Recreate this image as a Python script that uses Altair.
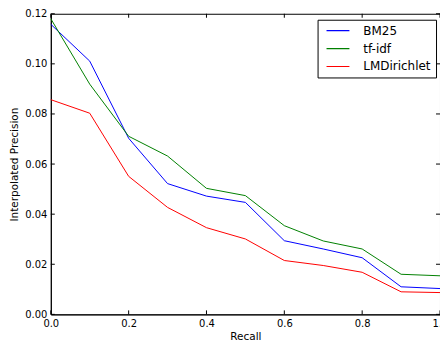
import altair as alt
import pandas as pd

recall = [0.0, 0.1, 0.2, 0.3, 0.4, 0.5, 0.6, 0.7, 0.8, 0.9, 1.0]
bm25 = [0.1158, 0.1011, 0.0703, 0.0522, 0.0472, 0.0447, 0.0294, 0.0261, 0.0226, 0.0110, 0.0103]
tfidf = [0.1180, 0.0919, 0.0711, 0.0632, 0.0503, 0.0474, 0.0354, 0.0293, 0.0261, 0.0160, 0.0154]
lmdir = [0.0857, 0.0803, 0.0551, 0.0427, 0.0346, 0.0301, 0.0215, 0.0195, 0.0168, 0.0090, 0.0087]
systems = ["BM25", "tf-idf", "LMDirichlet"]
colors = ["#0000ff", "#008000", "#ff0000"]
x_ticks = [0.0, 0.2, 0.4, 0.6, 0.8, 1.0]
y_ticks = [0.0, 0.02, 0.04, 0.06, 0.08, 0.10, 0.12]

rows = []
for name, vals in zip(systems, [bm25, tfidf, lmdir]):
    for r, p in zip(recall, vals):
        rows.append({"recall": r, "precision": p, "system": name})
df = pd.DataFrame(rows)
xt = pd.DataFrame({"recall": x_ticks})
yt = pd.DataFrame({"precision": y_ticks})

W, H = 391, 302
xs = alt.Scale(domain=[0, 1], nice=False, zero=False)
ys = alt.Scale(domain=[0, 0.12], nice=False, zero=False)
FONT = "DejaVu Sans"

x_axis = alt.Axis(title="Recall", values=x_ticks, format=".1f", labelFlush=False,
                  labelOverlap=False, ticks=False, grid=False, labelPadding=4,
                  titlePadding=3)
y_axis = alt.Axis(title="Interpolated Precision", values=y_ticks, format=".2f",
                  labelFlush=False, labelOverlap=False, ticks=False, grid=False,
                  labelPadding=4, titlePadding=5)

lines = alt.Chart(df).mark_line(strokeWidth=1).encode(
    x=alt.X("recall:Q", scale=xs, axis=x_axis),
    y=alt.Y("precision:Q", scale=ys, axis=y_axis),
    color=alt.Color("system:N", sort=systems,
                    scale=alt.Scale(domain=systems, range=colors),
                    legend=alt.Legend(title=None, orient="none", legendX=268, legendY=6,
                                      strokeColor="black", fillColor="white", padding=5,
                                      symbolType="stroke", symbolSize=529,
                                      symbolStrokeWidth=1.2, symbolOffset=3,
                                      labelFontSize=12, labelFont=FONT,
                                      labelColor="black", labelOffset=13,
                                      clipHeight=12, rowPadding=6, cornerRadius=0)),
    order=alt.Order("recall:Q"),
    detail="system:N",
)

xb = alt.Chart(xt).mark_rule(color="black", strokeWidth=1).encode(
    x=alt.X("recall:Q", scale=xs, axis=x_axis), y=alt.value(H), y2=alt.value(H - 4))
xtp = alt.Chart(xt).mark_rule(color="black", strokeWidth=1).encode(
    x=alt.X("recall:Q", scale=xs, axis=x_axis), y=alt.value(0), y2=alt.value(4))
yl = alt.Chart(yt).mark_rule(color="black", strokeWidth=1).encode(
    y=alt.Y("precision:Q", scale=ys, axis=y_axis), x=alt.value(0), x2=alt.value(4))
yr = alt.Chart(yt).mark_rule(color="black", strokeWidth=1).encode(
    y=alt.Y("precision:Q", scale=ys, axis=y_axis), x=alt.value(W), x2=alt.value(W - 4))

chart = alt.layer(lines, xb, xtp, yl, yr).properties(
    width=W, height=H,
    autosize=alt.AutoSizeParams(type="none"),
    padding={"left": 43, "top": 5, "right": 0, "bottom": 30},
).configure_view(stroke="black", strokeWidth=1).configure_axis(
    domainColor="black", domainWidth=1, labelFont=FONT, labelFontSize=10,
    labelColor="black", titleFont=FONT, titleFontSize=10.5, titleFontWeight="normal",
    titleColor="black",
)

chart.save("out.html", embed_options={"renderer": "svg", "actions": False})
